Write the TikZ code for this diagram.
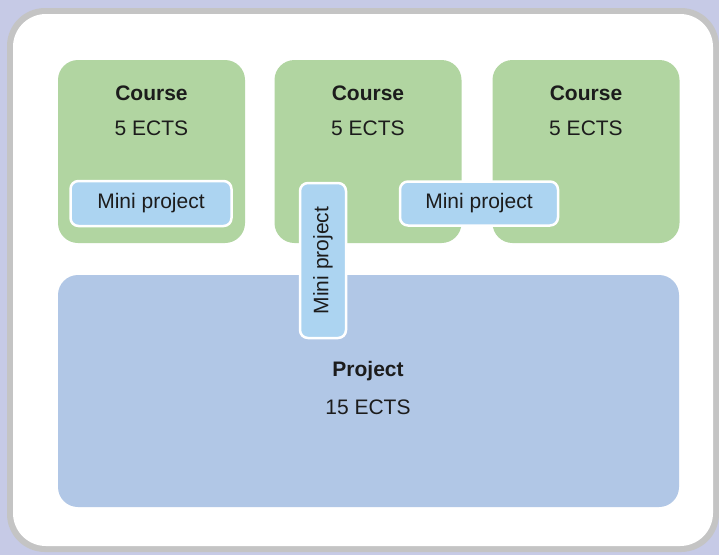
\documentclass[tikz,border=0pt]{standalone}
\usepackage{fontspec}
\setmainfont{Liberation Sans}
\definecolor{bgcol}{HTML}{C6CAE6}
\definecolor{framegrey}{HTML}{C4C4C4}
\definecolor{coursegreen}{HTML}{B1D5A1}
\definecolor{miniblue}{HTML}{ACD4F1}
\definecolor{projblue}{HTML}{B1C7E6}
\definecolor{ink}{HTML}{1C1C1C}
\begin{document}
\begin{tikzpicture}[x=1pt,y=-1pt,
  txt/.style={text=ink, inner sep=0pt, anchor=base, font=\fontsize{21}{25}\selectfont},
  btxt/.style={txt, font=\fontsize{21}{25}\selectfont\bfseries},
  course/.style={fill=coursegreen, rounded corners=20pt, minimum width=187pt, minimum height=183pt, inner sep=0pt},
  project/.style={fill=projblue, rounded corners=20pt, minimum width=621pt, minimum height=232pt, inner sep=0pt},
  mini/.style={fill=miniblue, draw=white, line width=2.5pt, rounded corners=8pt, text=ink, inner sep=0pt,
               font=\fontsize{21}{25}\selectfont}]
% page background and framed white panel
\fill[bgcol] (0,0) rectangle (719,555);
\useasboundingbox (0,0) rectangle (719,555);
\fill[framegrey, rounded corners=38pt] (7,8) rectangle (719,552);
\fill[white, rounded corners=33pt] (13,14) rectangle (713,546);

% course blocks
\node[course] (c1) at (151.5,151.5) {};
\node[course] (c2) at (368,151.5) {};
\node[course] (c3) at (586,151.5) {};
\node[btxt] (c1t) at (151.5,100.5) {Course};
\node[txt]  (c1e) at (151.5,135.5) {5 ECTS};
\node[btxt] (c2t) at (368,100.5) {Course};
\node[txt]  (c2e) at (368,135.5) {5 ECTS};
\node[btxt] (c3t) at (586,100.5) {Course};
\node[txt]  (c3e) at (586,135.5) {5 ECTS};

% project block
\node[project] (p) at (368.5,391) {};
\node[btxt] (pt) at (368,376) {Project};
\node[txt]  (pe) at (368,414) {15 ECTS};

% mini projects
\node[mini, minimum width=161pt, minimum height=45pt] (m1) at (151,203.5) {Mini project};
\node[mini, minimum width=158pt, minimum height=44pt] (m3) at (479,203.5) {Mini project};
\node[mini, rotate=90, minimum width=155pt, minimum height=46pt] (m2) at (323,260.5) {Mini project};
\end{tikzpicture}
\end{document}
